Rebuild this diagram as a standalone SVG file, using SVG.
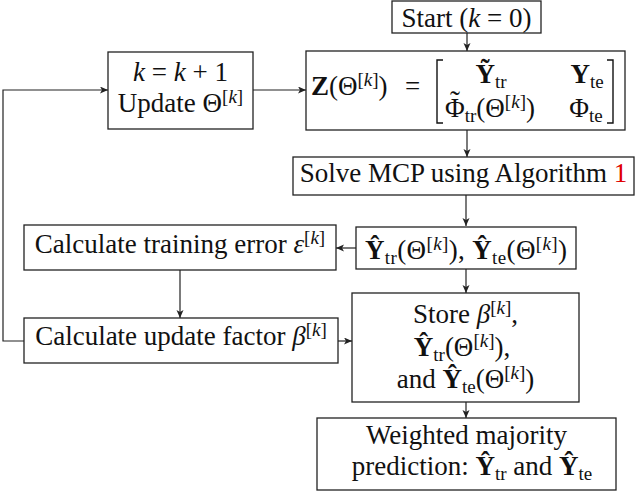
<svg xmlns="http://www.w3.org/2000/svg" width="640" height="493" viewBox="0 0 640 493">
<defs>
<style>
.box{fill:#fff;stroke:#222;stroke-width:1.3}
.t{font-family:"Liberation Serif",serif;font-size:27px;fill:#111}
.m{text-anchor:middle}
.s{font-size:19px}
.b{font-weight:bold}
.i{font-style:italic}
.c{fill:none;stroke:#222;stroke-width:1.2}
.br{fill:none;stroke:#111;stroke-width:1.4}
</style>
<marker id="ah" markerUnits="userSpaceOnUse" markerWidth="10" markerHeight="8" refX="8" refY="3.5" orient="auto">
<path d="M0,0 L8,3.5 L0,7 L2,3.5 z" fill="#222"/>
</marker>
</defs>
<rect width="640" height="493" fill="#fff"/>

<g id="connectors">
<path class="c" d="M467,33 V51" marker-end="url(#ah)"/>
<path class="c" d="M467,130 V157" marker-end="url(#ah)"/>
<path class="c" d="M466,195 V226" marker-end="url(#ah)"/>
<path class="c" d="M466,269 V293" marker-end="url(#ah)"/>
<path class="c" d="M466,402 V418" marker-end="url(#ah)"/>
<path class="c" d="M356,248 H336" marker-end="url(#ah)"/>
<path class="c" d="M180,270 V318" marker-end="url(#ah)"/>
<path class="c" d="M338,341 H352" marker-end="url(#ah)"/>
<path class="c" d="M24,341 H3 V90 H108" marker-end="url(#ah)"/>
<path class="c" d="M253,90 H306" marker-end="url(#ah)"/>
</g>

<g id="start">
<rect class="box" x="392" y="1" width="149" height="32"/>
<text class="t m" x="466.5" y="27">Start (<tspan class="i">k</tspan> = 0)</text>
</g>

<g id="update-theta">
<rect class="box" x="108" y="52" width="145" height="77"/>
<text class="t m" x="180.5" y="81"><tspan class="i">k</tspan> = <tspan class="i">k</tspan> + 1</text>
<text class="t m" x="180.5" y="112">Update Θ<tspan class="s" dy="-9">[<tspan class="i">k</tspan>]</tspan></text>
</g>

<g id="z-matrix">
<rect class="box" x="306" y="51" width="319" height="79"/>
<text class="t" x="311" y="95"><tspan class="b">Z</tspan>(Θ<tspan class="s" dy="-9">[<tspan class="i">k</tspan>]</tspan><tspan dy="9">)</tspan></text>
<text class="t" x="405" y="95">=</text>
<path class="br" d="M443,60 H437 V123 H443"/>
<path class="br" d="M607,60 H613 V123 H607"/>
<text class="t m" x="491" y="83"><tspan class="b">Ỹ</tspan><tspan class="s" dy="5">tr</tspan></text>
<text class="t m" x="587" y="83"><tspan class="b">Y</tspan><tspan class="s" dy="5">te</tspan></text>
<text class="t" x="445" y="117">Φ<tspan class="s" dy="5">tr</tspan><tspan dy="-5">(Θ</tspan><tspan class="s" dy="-9">[<tspan class="i">k</tspan>]</tspan><tspan dy="9">)</tspan><tspan x="455" y="111" font-size="30" text-anchor="middle">˜</tspan></text>
<text class="t m" x="586" y="117">Φ<tspan class="s" dy="5">te</tspan></text>
</g>

<g id="solve">
<rect class="box" x="293" y="157" width="341" height="38"/>
<text class="t m" x="463.5" y="182">Solve MCP using Algorithm <tspan fill="#e00000">1</tspan></text>
</g>

<g id="estimates">
<rect class="box" x="356" y="227" width="220" height="42"/>
<text class="t m" x="466" y="259" textLength="202"><tspan class="b">Ŷ</tspan><tspan class="s" dy="5">tr</tspan><tspan dy="-5">(Θ</tspan><tspan class="s" dy="-9">[<tspan class="i">k</tspan>]</tspan><tspan dy="9">), </tspan><tspan class="b">Ŷ</tspan><tspan class="s" dy="5">te</tspan><tspan dy="-5">(Θ</tspan><tspan class="s" dy="-9">[<tspan class="i">k</tspan>]</tspan><tspan dy="9">)</tspan></text>
</g>

<g id="training-error">
<rect class="box" x="24" y="225" width="312" height="45"/>
<text class="t m" x="180" y="253">Calculate training error <tspan class="i">ε</tspan><tspan class="s" dy="-9">[<tspan class="i">k</tspan>]</tspan></text>
</g>

<g id="update-factor">
<rect class="box" x="24" y="318" width="314" height="45"/>
<text class="t m" x="181" y="345">Calculate update factor <tspan class="i">β</tspan><tspan class="s" dy="-9">[<tspan class="i">k</tspan>]</tspan></text>
</g>

<g id="store">
<rect class="box" x="352" y="293" width="227" height="109"/>
<text class="t m" x="465.5" y="323">Store <tspan class="i">β</tspan><tspan class="s" dy="-9">[<tspan class="i">k</tspan>]</tspan><tspan dy="9">,</tspan></text>
<text class="t m" x="462" y="356"><tspan class="b">Ŷ</tspan><tspan class="s" dy="5">tr</tspan><tspan dy="-5">(Θ</tspan><tspan class="s" dy="-9">[<tspan class="i">k</tspan>]</tspan><tspan dy="9">),</tspan></text>
<text class="t m" x="465.5" y="388">and <tspan class="b">Ŷ</tspan><tspan class="s" dy="5">te</tspan><tspan dy="-5">(Θ</tspan><tspan class="s" dy="-9">[<tspan class="i">k</tspan>]</tspan><tspan dy="9">)</tspan></text>
</g>

<g id="weighted">
<rect class="box" x="317" y="418" width="299" height="72"/>
<text class="t m" x="466.5" y="444">Weighted majority</text>
<text class="t m" x="472" y="475">prediction: <tspan class="b">Ŷ</tspan><tspan class="s" dy="5">tr</tspan><tspan dy="-5"> and </tspan><tspan class="b">Ŷ</tspan><tspan class="s" dy="5">te</tspan></text>
</g>
</svg>
